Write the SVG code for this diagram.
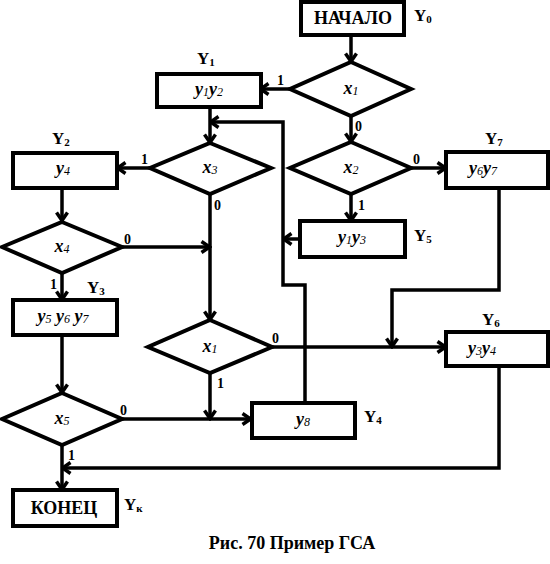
<svg xmlns="http://www.w3.org/2000/svg" width="550" height="564" viewBox="0 0 550 564">
<defs>
<marker id="arr" viewBox="0 0 12 14" refX="10.5" refY="7" markerWidth="12" markerHeight="14" markerUnits="userSpaceOnUse" orient="auto">
<path d="M2,1.5 L10,7 L2,12.5" fill="none" stroke="#000" stroke-width="3.5"/>
</marker>
</defs>
<style>
.box{fill:#fff;stroke:#000;stroke-width:4}
.dia{fill:#fff;stroke:#000;stroke-width:4;stroke-linejoin:miter}
.ln{fill:none;stroke:#000;stroke-width:3.5;marker-end:url(#arr)}
text{font-family:"Liberation Serif","Times New Roman",serif;fill:#000}
.t{font-size:18px;font-weight:bold;text-anchor:middle}
.v{font-size:18px;font-weight:bold;font-style:italic;text-anchor:middle}
.s{font-size:12px;font-weight:normal;font-style:italic}
.Y{font-size:17px;font-weight:bold}
.Ys{font-size:11px;font-weight:bold}
.b{font-size:14px;font-weight:bold}
.cap{font-size:18px;font-weight:bold;text-anchor:middle}
</style>
<g id="connectors">
<path class="ln" d="M351,35 V62"/>
<path class="ln" d="M290,89 H260"/>
<path class="ln" d="M351,116 V142"/>
<path class="ln" d="M210,107 V143"/>
<path class="ln" d="M150,168 H117"/>
<path class="ln" d="M411,168 H446"/>
<path class="ln" d="M351,194 V221"/>
<path class="ln" d="M300,239 H283"/>
<path class="ln" d="M305,403 V285 H283 V122 H210"/>
<path class="ln" d="M499,188 V290 H392 V347"/>
<path class="ln" d="M62,188 V221"/>
<path class="ln" d="M122,247 H210"/>
<path class="ln" d="M210,194 V320"/>
<path class="ln" d="M62,273 V300"/>
<path class="ln" d="M62,335 V393"/>
<path class="ln" d="M272,347 H446"/>
<path class="ln" d="M210,373 V419"/>
<path class="ln" d="M122,419 H251"/>
<path class="ln" d="M62,445 V490"/>
<path class="ln" d="M499,366 V468 H62"/>
</g>
<g id="start">
<rect class="box" x="301" y="2" width="103" height="33"/>
<text class="t" x="353" y="24">НАЧАЛО</text>
<text class="Y" x="414" y="21">Y<tspan class="Ys" dy="2">0</tspan></text>
</g>
<g id="cond_x1_top">
<polygon class="dia" points="351,62 411,89 351,116 290,89"/>
<text class="v" x="351" y="94">x<tspan class="s" dy="1">1</tspan></text>
<text class="b" x="277" y="85">1</text>
<text class="b" x="355" y="131">0</text>
</g>
<g id="Y1">
<rect class="box" x="157" y="74" width="104" height="33"/>
<text class="v" x="209" y="95">y<tspan class="s" dy="1">1</tspan><tspan dy="-1">y</tspan><tspan class="s" dy="1">2</tspan></text>
<text class="Y" x="197" y="64">Y<tspan class="Ys" dy="2">1</tspan></text>
</g>
<g id="cond_x2">
<polygon class="dia" points="351,142 411,168 351,194 290,168"/>
<text class="v" x="351" y="173">x<tspan class="s" dy="1">2</tspan></text>
<text class="b" x="413" y="164">0</text>
<text class="b" x="358" y="210">1</text>
</g>
<g id="Y7">
<rect class="box" x="446" y="152" width="102" height="36"/>
<text class="v" x="483" y="174">y<tspan class="s" dy="1">6</tspan><tspan dy="-1">y</tspan><tspan class="s" dy="1">7</tspan></text>
<text class="Y" x="485" y="144">Y<tspan class="Ys" dy="2">7</tspan></text>
</g>
<g id="Y5">
<rect class="box" x="300" y="221" width="105" height="36"/>
<text class="v" x="352" y="243">y<tspan class="s" dy="1">1</tspan><tspan dy="-1">y</tspan><tspan class="s" dy="1">3</tspan></text>
<text class="Y" x="414" y="241">Y<tspan class="Ys" dy="2">5</tspan></text>
</g>
<g id="cond_x3">
<polygon class="dia" points="210,143 271,168 210,194 150,168"/>
<text class="v" x="210" y="173">x<tspan class="s" dy="1">3</tspan></text>
<text class="b" x="141" y="164">1</text>
<text class="b" x="214" y="210">0</text>
</g>
<g id="Y2">
<rect class="box" x="13" y="153" width="104" height="35"/>
<text class="v" x="63" y="174">y<tspan class="s" dy="1">4</tspan></text>
<text class="Y" x="52" y="144">Y<tspan class="Ys" dy="2">2</tspan></text>
</g>
<g id="cond_x4">
<polygon class="dia" points="62,222 122,247 62,273 2,247"/>
<text class="v" x="62" y="252">x<tspan class="s" dy="1">4</tspan></text>
<text class="b" x="124" y="244">0</text>
<text class="b" x="50" y="289">1</text>
</g>
<g id="Y3">
<rect class="box" x="13" y="300" width="104" height="35"/>
<text class="v" x="63" y="322">y<tspan class="s" dy="1">5</tspan><tspan dy="-1"> y</tspan><tspan class="s" dy="1">6</tspan><tspan dy="-1"> y</tspan><tspan class="s" dy="1">7</tspan></text>
<text class="Y" x="87" y="293">Y<tspan class="Ys" dy="2">3</tspan></text>
</g>
<g id="cond_x1_bottom">
<polygon class="dia" points="210,320 272,347 210,373 148,347"/>
<text class="v" x="210" y="352">x<tspan class="s" dy="1">1</tspan></text>
<text class="b" x="272" y="343">0</text>
<text class="b" x="217" y="388">1</text>
</g>
<g id="Y6">
<rect class="box" x="446" y="332" width="102" height="34"/>
<text class="v" x="482" y="354">y<tspan class="s" dy="1">3</tspan><tspan dy="-1">y</tspan><tspan class="s" dy="1">4</tspan></text>
<text class="Y" x="482" y="325">Y<tspan class="Ys" dy="2">6</tspan></text>
</g>
<g id="cond_x5">
<polygon class="dia" points="62,393 122,419 62,445 2,419"/>
<text class="v" x="62" y="424">x<tspan class="s" dy="1">5</tspan></text>
<text class="b" x="120" y="415">0</text>
<text class="b" x="68" y="460">1</text>
</g>
<g id="Y4">
<rect class="box" x="252" y="403" width="103" height="35"/>
<text class="v" x="303" y="425">y<tspan class="s" dy="1">8</tspan></text>
<text class="Y" x="364" y="422">Y<tspan class="Ys" dy="2">4</tspan></text>
</g>
<g id="end">
<rect class="box" x="13" y="490" width="104" height="36"/>
<text class="t" x="64" y="514">КОНЕЦ</text>
<text class="Y" x="124" y="510">Y<tspan class="Ys" dy="2">к</tspan></text>
</g>
<text class="cap" x="292" y="549">Рис. 70 Пример ГСА</text>
</svg>
